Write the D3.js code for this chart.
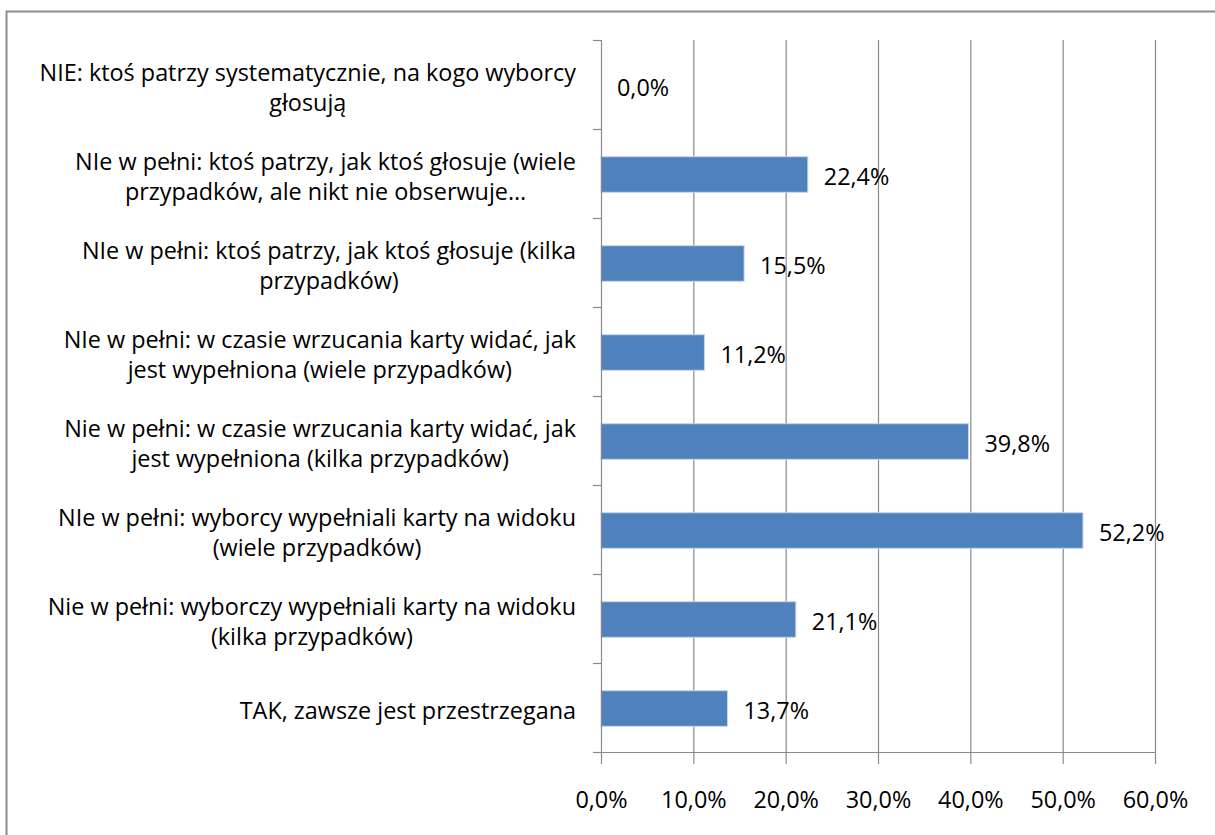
<!DOCTYPE html>
<html>
<head>
<meta charset="utf-8">
<script src="https://cdn.jsdelivr.net/npm/d3@7"></script>
<style>
  body { margin: 0; background: #fff; }
  text { font-family: "Open Sans", sans-serif; fill: #000; }
</style>
</head>
<body>
<svg id="chart" width="1215" height="835"></svg>
<script>
// categories, top to bottom (lines split with |)
const categories = [
  "NIE: ktoś patrzy systematycznie, na kogo wyborcy|głosują",
  "NIe w pełni: ktoś patrzy, jak ktoś głosuje (wiele|przypadków, ale nikt nie obserwuje…",
  "NIe w pełni: ktoś patrzy, jak ktoś głosuje (kilka|przypadków)",
  "NIe w pełni: w czasie wrzucania karty widać, jak|jest wypełniona (wiele przypadków)",
  "Nie w pełni: w czasie wrzucania karty widać, jak|jest wypełniona (kilka przypadków)",
  "NIe w pełni: wyborcy wypełniali karty na widoku|(wiele przypadków)",
  "Nie w pełni: wyborczy wypełniali karty na widoku|(kilka przypadków)",
  "TAK, zawsze jest przestrzegana"
]
const values = [0.0, 22.4, 15.5, 11.2, 39.8, 52.2, 21.1, 13.7]
const xTicks = [0, 10, 20, 30, 40, 50, 60]

const data = categories.map((c, i) => ({ key: c, value: values[i] }))

const pl = d3.formatLocale({ decimal: ",", thousands: " ", grouping: [3], currency: ["", " zł"] })
const pct = v => pl.format(".1f")(v) + "%"

const fs = "23.4px"
const svg = d3.select("#chart")

// outer frame
svg.append("rect")
  .attr("x", 6.5).attr("y", 11.5)
  .attr("width", 1230).attr("height", 840)
  .attr("fill", "none")
  .attr("stroke", "#8c8c8c")
  .attr("stroke-width", 2)

const plotL = 601, plotR = 1155, plotT = 40, plotB = 752

const x = d3.scaleLinear().domain([0, 60]).range([plotL, plotR])
const y = d3.scaleBand().domain(categories).range([plotT, plotB]).paddingInner(0).paddingOuter(0)

// gridlines
svg.append("g")
  .selectAll("line")
  .data(xTicks.slice(1))
  .enter().append("line")
    .attr("x1", d => x(d) + 0.5).attr("x2", d => x(d) + 0.5)
    .attr("y1", plotT).attr("y2", plotB)
    .attr("stroke", "#8a8a8a")
    .attr("stroke-width", 1.2)

// bars
const bh = y.bandwidth() * 0.4
svg.append("g")
  .selectAll("rect")
  .data(data)
  .enter().append("rect")
    .attr("x", x(0))
    .attr("y", d => y(d.key) + y.bandwidth() / 2 - bh / 2 + 1)
    .attr("width", d => x(d.value) - x(0))
    .attr("height", bh)
    .attr("fill", "#4f81bd")
    .attr("stroke", "#c6d6ea")
    .attr("stroke-width", d => d.value > 0 ? 1 : 0)

// value labels
svg.append("g")
  .selectAll("text")
  .data(data)
  .enter().append("text")
    .attr("x", d => x(d.value) + 16)
    .attr("y", d => y(d.key) + y.bandwidth() / 2 + 3)
    .attr("dy", "0.35em")
    .attr("font-size", fs)
    .attr("fill", "#111")
    .text(d => pct(d.value))

// y axis line and ticks at band edges
const yAxis = svg.append("g")
yAxis.append("line")
  .attr("x1", plotL + 0.5).attr("x2", plotL + 0.5)
  .attr("y1", plotT).attr("y2", plotB)
  .attr("stroke", "#8a8a8a").attr("stroke-width", 1.2)
yAxis.selectAll("line.tick")
  .data(categories.map(c => y(c)).concat([plotB]))
  .enter().append("line")
    .attr("class", "tick")
    .attr("x1", plotL - 8).attr("x2", plotL)
    .attr("y1", d => d + 0.5).attr("y2", d => d + 0.5)
    .attr("stroke", "#8a8a8a").attr("stroke-width", 1.2)

// category labels: lines centred on each other, block right-aligned
const labelRight = 576
categories.forEach(c => {
  const lines = c.split("|")
  const g = svg.append("text")
    .attr("font-size", fs)
    .attr("fill", "#111")
    .attr("text-anchor", "middle")
  const lh = 30
  const cy = y(c) + y.bandwidth() / 2 + 3
  lines.forEach((ln, i) => {
    g.append("tspan")
      .attr("x", 0)
      .attr("y", cy - (lines.length - 1) * lh / 2 + i * lh)
      .attr("dy", "0.35em")
      .text(ln)
  })
  let maxW = 0
  g.selectAll("tspan").each(function() { maxW = Math.max(maxW, this.getComputedTextLength()) })
  g.selectAll("tspan").attr("x", labelRight - maxW / 2)
})

// x axis
const xAxis = svg.append("g")
  .attr("transform", `translate(0,${plotB})`)
  .call(d3.axisBottom(x).tickValues(xTicks).tickSize(12).tickPadding(27).tickFormat(pct))
xAxis.select(".domain").attr("stroke", "#8a8a8a").attr("stroke-width", 1.2).attr("d", `M${plotL - 8},0.5H${plotR}`)
xAxis.selectAll(".tick line").attr("stroke", "#8a8a8a").attr("stroke-width", 1.2)
xAxis.selectAll(".tick text")
  .attr("font-size", fs)
  .attr("font-family", "Open Sans, sans-serif")
  .attr("fill", "#111")
</script>
</body>
</html>
